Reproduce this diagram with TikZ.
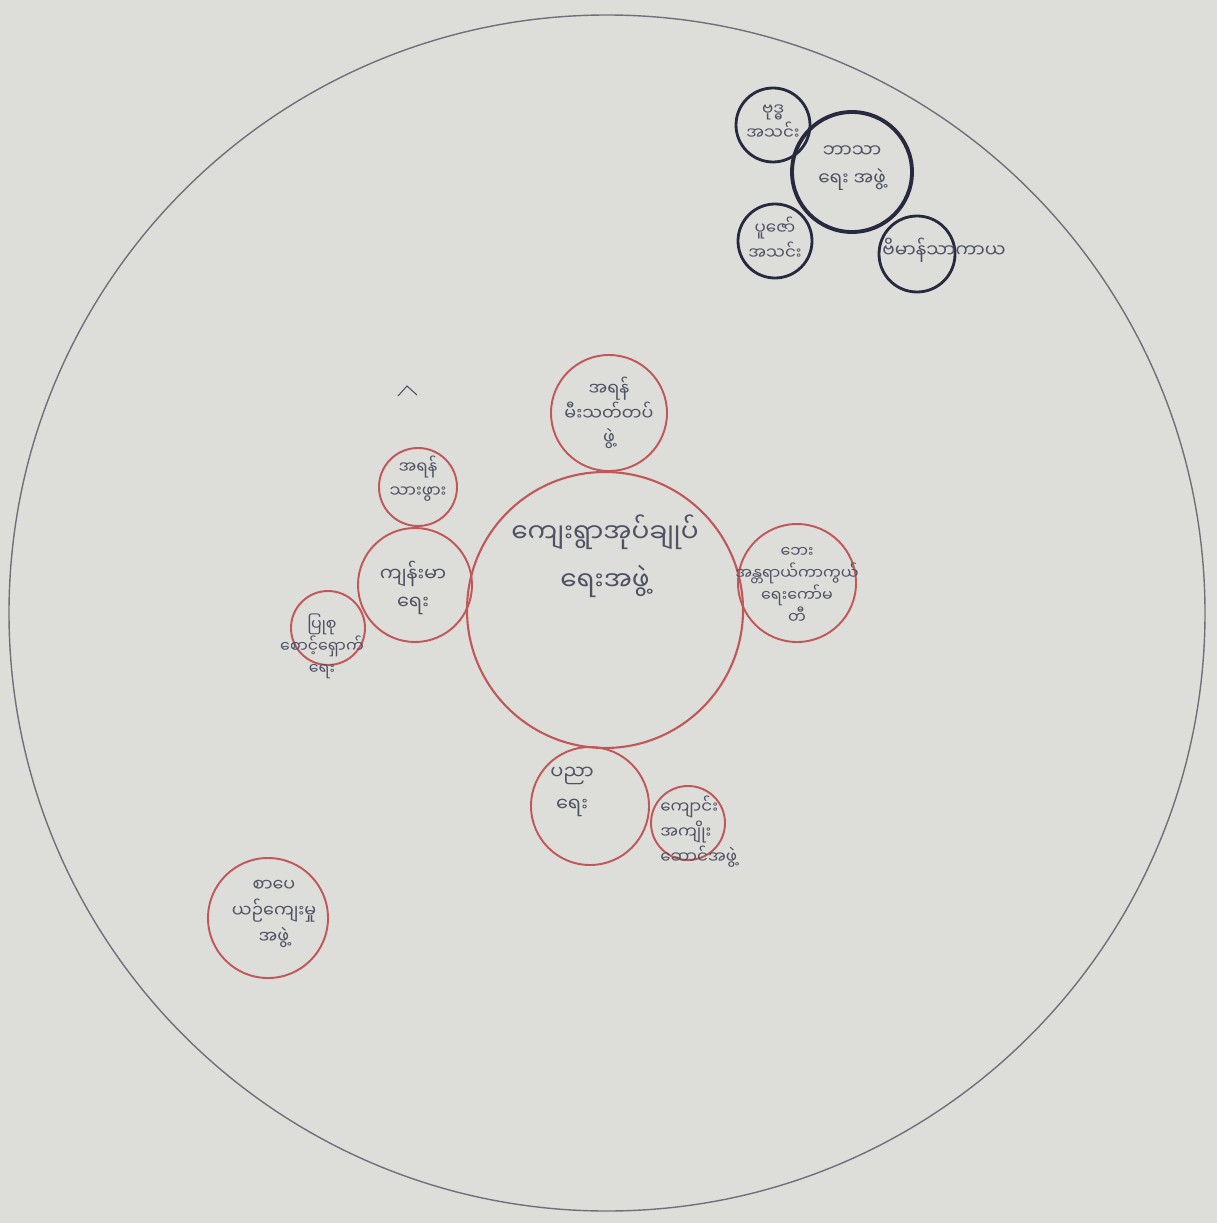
\documentclass[tikz,border=0pt]{standalone}
\usepackage{fontspec}
\newfontfamily\mya[Script=Myanmar]{Noto Sans Myanmar UI}
\definecolor{paper}{RGB}{221,221,217}
\definecolor{ring}{RGB}{112,112,122}
\definecolor{redring}{RGB}{192,88,90}
\definecolor{darkring}{RGB}{40,40,62}
\definecolor{ink}{RGB}{80,82,100}
\tikzset{
  redc/.style={circle, draw=redring, line width=1.1pt, inner sep=0pt},
  darkc/.style={circle, draw=darkring, line width=1.6pt, inner sep=0pt},
  hand/.style={text=ink, align=center, inner sep=0pt}
}
\begin{document}
\begin{tikzpicture}[x=0.02cm,y=-0.02cm]
\useasboundingbox (0,0) rectangle (1217,1223);
\fill[paper] (0,0) rectangle (1217,1223);
% outer circle
\node[circle, draw=ring, line width=0.8pt, minimum size=1196*0.02cm, inner sep=0pt] (outer) at (607,613) {};
% central
\node[redc, line width=1.2pt, minimum size=276*0.02cm] (center) at (605,610) {};
\node[hand, font=\mya\fontsize{15}{27}\selectfont] (centert) at (605,556) {ကျေးရွာအုပ်ချုပ်\\ ရေးအဖွဲ့};
% top
\node[redc, minimum size=116*0.02cm] (top) at (609,413) {};
\node[hand, font=\mya\fontsize{10}{14}\selectfont] (topt) at (609,413) {အရန်\\ မီးသတ်တပ်\\ ဖွဲ့};
% right
\node[redc, minimum size=118*0.02cm] (right) at (797,583) {};
\node[hand, font=\mya\fontsize{9}{12.5}\selectfont] (rightt) at (797,585) {ဘေး\\ အန္တရာယ်ကာကွယ်\\ ရေးကော်မ\\ တီ};
% health
\node[redc, minimum size=114*0.02cm] (health) at (415,585) {};
\node[hand, font=\mya\fontsize{11}{16}\selectfont] (healtht) at (413,588) {ကျန်းမာ\\ ရေး};
% midwife
\node[redc, minimum size=78*0.02cm] (midwife) at (418,487) {};
\node[hand, font=\mya\fontsize{9.5}{13.5}\selectfont] (midwifet) at (418,479) {အရန်\\ သားဖွား};
% care
\node[redc, minimum size=74*0.02cm] (care) at (328,628) {};
\node[hand, font=\mya\fontsize{9}{12.5}\selectfont] (caret) at (322,646) {ပြုစု\\ စောင့်ရှောက်\\ ရေး};
% education
\node[redc, minimum size=118*0.02cm] (edu) at (590,806) {};
\node[hand, font=\mya\fontsize{11}{18}\selectfont] (edut) at (572,792) {ပညာ\\ ရေး};
% school
\node[redc, minimum size=74*0.02cm] (school) at (688,823) {};
\node[hand, align=left, anchor=north west, font=\mya\fontsize{9.5}{14}\selectfont] (schoolt) at (660,796) {ကျောင်း\\ အကျိုး\\ ဆောင်အဖွဲ့};
% culture
\node[redc, minimum size=120*0.02cm] (culture) at (268,918) {};
\node[hand, font=\mya\fontsize{10}{15}\selectfont] (culturet) at (274,914) {စာပေ\\ ယဉ်ကျေးမှု\\ အဖွဲ့};
% religious group (dark)
\node[darkc, line width=2.2pt, minimum size=120*0.02cm] (relig) at (852,172) {};
\node[hand, font=\mya\fontsize{10.5}{16}\selectfont] (religt) at (852,168) {ဘာသာ\\ ရေး အဖွဲ့};
\node[darkc, minimum size=74*0.02cm] (buddh) at (773,125) {};
\node[hand, font=\mya\fontsize{9.5}{14}\selectfont] (buddht) at (773,122) {ဗုဒ္ဓ\\ အသင်း};
\node[darkc, minimum size=74*0.02cm] (pooja) at (775,241) {};
\node[hand, font=\mya\fontsize{9.5}{14}\selectfont] (poojat) at (775,238) {ပူဇော်\\ အသင်း};
\node[darkc, minimum size=76*0.02cm] (vimana) at (917,254) {};
\node[hand, anchor=west, font=\mya\fontsize{10.5}{14}\selectfont] (vimanat) at (882,250) {ဗိမာန်သာကာယ};
% small caret mark
\draw[ink, line width=0.6pt] (398,396) -- (407,386) -- (417,395);
\end{tikzpicture}
\end{document}
